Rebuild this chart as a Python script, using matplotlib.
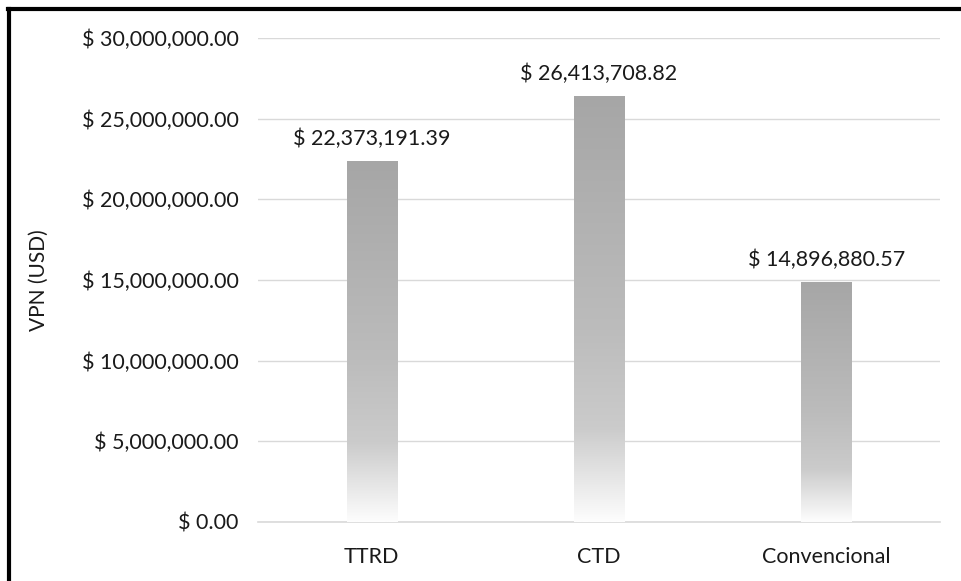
import matplotlib
matplotlib.use("Agg")
import matplotlib.pyplot as plt
import numpy as np
from matplotlib.colors import LinearSegmentedColormap
from matplotlib.patches import Rectangle

categories = ["TTRD", "CTD", "Convencional"]
values = [22373191.39, 26413708.82, 14896880.57]
y_ticks = [0, 5e6, 10e6, 15e6, 20e6, 25e6, 30e6]

plt.rcParams["font.family"] = ["Lato", "DejaVu Sans"]
FS = 15.5
TXT = "#1a1a1a"

fig = plt.figure(figsize=(9.61, 5.81), dpi=100)
ax = fig.add_axes([258 / 961, 1 - 522 / 581, (940 - 258) / 961, (522 - 38) / 581])

# vertical gradient: darker grey at top fading to white at the base
cmap = LinearSegmentedColormap.from_list(
    "fade",
    [(0.0, "#a6a6a6"), (0.55, "#bcbcbc"), (0.78, "#cbcbcb"), (1.0, "#fdfdfd")],
)
grad = np.linspace(0, 1, 256).reshape(-1, 1)

bar_w = 0.22
x = np.arange(len(categories))
bars = ax.bar(x, values, width=bar_w, color="none", edgecolor="none", zorder=3)
for b, v in zip(bars, values):
    x0 = b.get_x()
    im = ax.imshow(grad, cmap=cmap, aspect="auto",
                   extent=[x0, x0 + bar_w, 0, v], origin="upper", zorder=3)
    clip = Rectangle((x0, 0), bar_w, v, transform=ax.transData)
    im.set_clip_path(clip)
    ax.annotate(f"$ {v:,.2f}", (b.get_x() + bar_w / 2, v), xytext=(0, 11.5),
                textcoords="offset points", ha="center", va="baseline",
                fontsize=FS, color=TXT, zorder=4)

ax.set_xlim(-0.5, len(categories) - 0.5)
ax.set_ylim(0, 30e6)
ax.set_yticks(y_ticks)
ax.set_yticklabels([f"$ {t:,.2f}" for t in y_ticks])
ax.set_xticks(x)
ax.set_xticklabels(categories)
ax.tick_params(axis="both", length=0, labelsize=FS, labelcolor=TXT)
ax.tick_params(axis="y", pad=14)
ax.tick_params(axis="x", pad=18)
ax.yaxis.grid(True, color="#d9d9d9", linewidth=1.0, zorder=0)
ax.set_axisbelow(True)
for s in ["top", "right", "left"]:
    ax.spines[s].set_visible(False)
ax.spines["bottom"].set_color("#d9d9d9")
ax.spines["bottom"].set_linewidth(1.2)
ax.set_ylabel("VPN (USD)", fontsize=FS - 0.5, color=TXT)
ax.yaxis.set_label_coords((49 - 258) / 682, 0.5)

# outer frame on the left and top edges
fig.add_artist(plt.Line2D([9 / 961, 9 / 961], [0, 1 - 8.5 / 581], color="black",
                          linewidth=3, transform=fig.transFigure))
fig.add_artist(plt.Line2D([7.5 / 961, 1], [1 - 9 / 581, 1 - 9 / 581], color="black",
                          linewidth=3, transform=fig.transFigure))

fig.savefig("out.png", dpi=100)
